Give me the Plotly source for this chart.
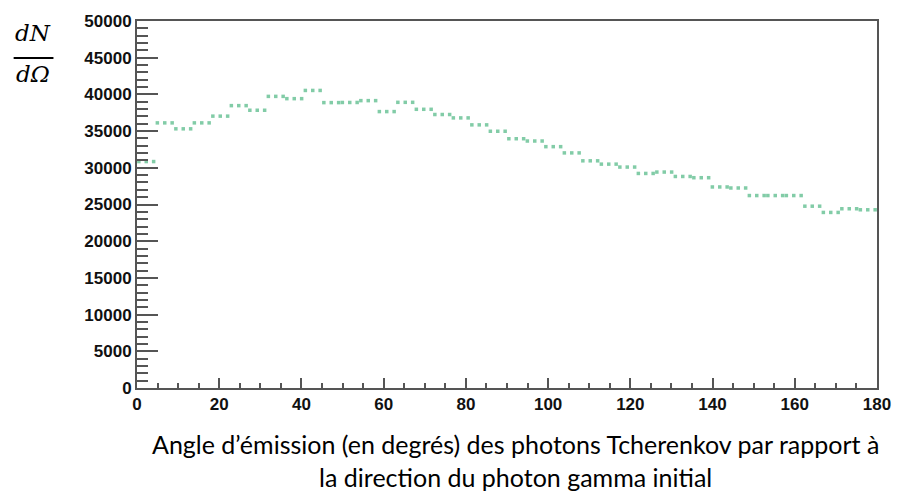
import numpy as np
import plotly.graph_objects as go

# histogram: 40 bins of 4.5 degrees between 0 and 180
angle_min = 0
angle_max = 180
n_bins = 40
counts = [30850, 36120, 35310, 36120, 37040, 38470, 37840, 39730, 39420, 40540,
          38880, 38900, 39150, 37660, 38920, 37970, 37260, 36800, 35850, 34980,
          33960, 33650, 32880, 32030, 30950, 30500, 30100, 29230, 29420, 28820,
          28650, 27390, 27250, 26220, 26220, 26220, 24770, 23920, 24420, 24280]

x_ticks = [0, 20, 40, 60, 80, 100, 120, 140, 160, 180]
y_ticks = [0, 5000, 10000, 15000, 20000, 25000, 30000, 35000, 40000, 45000, 50000]

edges = np.linspace(angle_min, angle_max, n_bins + 1)
width = edges[1] - edges[0]

# ROOT draws each bin as a short dotted horizontal step -> three dots per bin
xs, ys = [], []
for lo, c in zip(edges[:-1], counts):
    for f in (0.1, 0.5, 0.9):
        xs.append(lo + f * width)
        ys.append(c)

fig = go.Figure()
fig.add_trace(go.Scatter(
    x=xs, y=ys, mode="markers",
    marker=dict(symbol="square", size=3.5, color="#74c69d", opacity=0.9,
                line=dict(width=0)),
    hoverinfo="skip", showlegend=False,
))

axis_font = dict(family="Liberation Sans, Arial", size=17, color="#111", weight="bold")

fig.update_xaxes(
    range=[angle_min, angle_max], tickvals=x_ticks,
    ticks="inside", ticklen=10, tickwidth=2, tickcolor="#555",
    minor=dict(ticks="inside", dtick=5, ticklen=5, tickwidth=1.5, tickcolor="#555"),
    showline=True, linecolor="#555", linewidth=2, mirror=True,
    showgrid=False, zeroline=False, tickfont=axis_font,
)
fig.update_yaxes(
    range=[0, 50000], tickvals=y_ticks, tickformat="d",
    ticks="inside", ticklen=21, tickwidth=2, tickcolor="#555",
    minor=dict(ticks="inside", dtick=1000, ticklen=11, tickwidth=2, tickcolor="#555"),
    showline=True, linecolor="#555", linewidth=2, mirror=True,
    showgrid=False, zeroline=False, tickfont=axis_font,
)

# y title as a fraction dN / dΩ
frac_font = dict(family="DejaVu Serif", size=23, color="black", style="italic")
fig.add_annotation(x=-0.141, y=0.967, xref="paper", yref="paper", text="dN",
                   showarrow=False, font=frac_font, xanchor="center", yanchor="middle")
fig.add_annotation(x=-0.141, y=0.855, xref="paper", yref="paper", text="dΩ",
                   showarrow=False, font=frac_font, xanchor="center", yanchor="middle")
fig.add_shape(type="line", xref="paper", yref="paper",
              x0=-0.1667, x1=-0.1129, y0=0.8995, y1=0.8995,
              line=dict(color="black", width=2))

# x title, two lines
fig.add_annotation(
    x=0.512, y=-0.105, xref="paper", yref="paper", xanchor="center", yanchor="top",
    text="Angle d’émission (en degrés) des photons Tcherenkov par rapport à<br>"
         "la direction du photon gamma initial",
    showarrow=False, align="center",
    font=dict(family="Lato", size=25, color="black"),
)

fig.update_layout(
    width=903, height=493,
    margin=dict(l=137, r=22, t=20, b=105),
    paper_bgcolor="white", plot_bgcolor="white",
)

# drop the default page margin so the figure sits at the window origin
fig.write_html("out.html", config={"displayModeBar": False},
               post_script="document.body.style.margin='0';")
